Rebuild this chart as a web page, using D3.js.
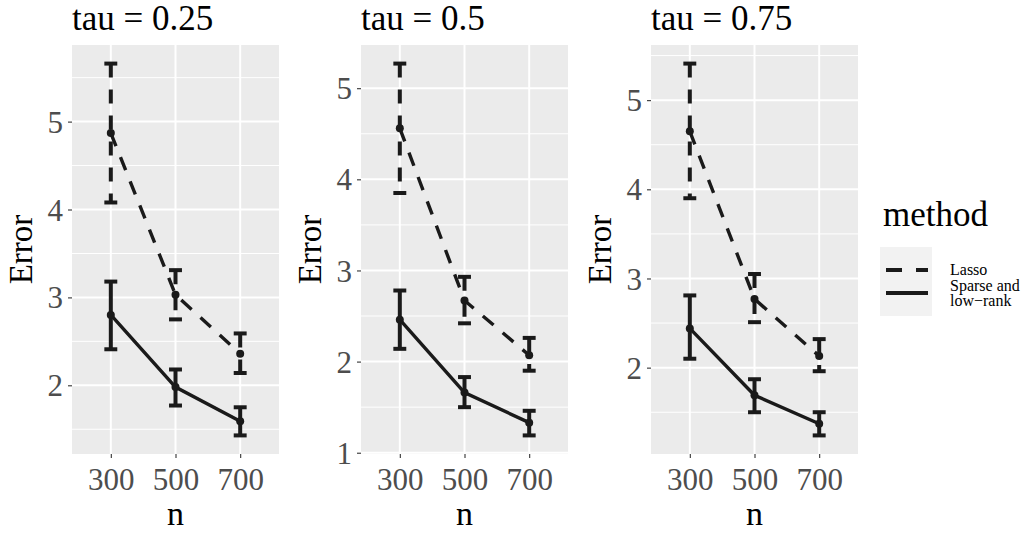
<!DOCTYPE html>
<html>
<head>
<meta charset="utf-8">
<script src="https://cdn.jsdelivr.net/npm/d3@7"></script>
<style>
  body { margin: 0; background: #fff; }
  text { font-family: "Liberation Serif", "Times New Roman", serif; }
</style>
</head>
<body>
<svg id="grafico" width="1032" height="534"></svg>
<script>
// valores
const nValores = [300, 500, 700];
const taus = ["0.25", "0.5", "0.75"];
const metodos = ["Lasso", "Sparse and low\u2212rank"];

const lassoMedia = [[4.87, 3.03, 2.36], [4.56, 2.67, 2.07], [4.65, 2.77, 2.13]];
const lassoInf   = [[4.08, 2.75, 2.14], [3.85, 2.42, 1.90], [3.90, 2.51, 1.96]];
const lassoSup   = [[5.66, 3.31, 2.59], [5.27, 2.93, 2.26], [5.41, 3.05, 2.32]];

const sparseMedia = [[2.80, 1.98, 1.59], [2.46, 1.66, 1.33], [2.44, 1.69, 1.37]];
const sparseInf   = [[2.41, 1.77, 1.43], [2.14, 1.50, 1.19], [2.10, 1.50, 1.24]];
const sparseSup   = [[3.18, 2.18, 1.75], [2.78, 1.83, 1.46], [2.81, 1.87, 1.50]];

const ticksY = [[2, 3, 4, 5], [1, 2, 3, 4, 5], [2, 3, 4, 5]];

var svg = d3.select("#grafico");

var esquerdas = [72, 361, 651],
    largura = 207,
    topo = 45,
    base = 454;

var tracos = ["14,12", null];

function desenharPainel(i) {
    var x0 = esquerdas[i];
    var g = svg.append("g");

    var todos = lassoInf[i].concat(lassoSup[i], sparseInf[i], sparseSup[i]);
    var minimo = d3.min(todos), maximo = d3.max(todos);
    var folga = (maximo - minimo) * 0.05;

    var y = d3.scaleLinear()
        .domain([minimo - folga, maximo + folga])
        .range([base, topo]);

    var x = d3.scalePoint()
        .domain(nValores)
        .range([x0, x0 + largura])
        .padding(0.6);
    var passo = x.step();

    // fundo do painel
    g.append("rect")
        .attr("x", x0).attr("y", topo)
        .attr("width", largura).attr("height", base - topo)
        .attr("fill", "#EBEBEB");

    // grade menor
    var menores = [];
    for (var k = 0; k < ticksY[i].length; k++) {
        menores.push(ticksY[i][k] - 0.5);
    }
    menores.push(ticksY[i][ticksY[i].length - 1] + 0.5);
    menores = menores.filter(function (v) { return v > y.domain()[0] && v < y.domain()[1]; });

    g.selectAll("line.menor")
        .data(menores)
        .enter().append("line")
        .attr("x1", x0).attr("x2", x0 + largura)
        .attr("y1", d => y(d)).attr("y2", d => y(d))
        .attr("stroke", "#fff").attr("stroke-width", 1);

    g.selectAll("line.maiorY")
        .data(ticksY[i])
        .enter().append("line")
        .attr("x1", x0).attr("x2", x0 + largura)
        .attr("y1", d => y(d)).attr("y2", d => y(d))
        .attr("stroke", "#fff").attr("stroke-width", 2);

    g.selectAll("line.maiorX")
        .data(nValores)
        .enter().append("line")
        .attr("x1", d => x(d)).attr("x2", d => x(d))
        .attr("y1", topo).attr("y2", base)
        .attr("stroke", "#fff").attr("stroke-width", 2);

    // eixos
    var eixoY = g.append("g")
        .attr("transform", "translate(" + x0 + ",0)")
        .call(d3.axisLeft(y).tickValues(ticksY[i]).tickSize(4).tickPadding(5).tickFormat(d3.format("d")));
    var eixoX = g.append("g")
        .attr("transform", "translate(0," + base + ")")
        .call(d3.axisBottom(x).tickSize(4).tickPadding(10));

    [eixoY, eixoX].forEach(function (e) {
        e.select(".domain").remove();
        e.selectAll(".tick line").attr("stroke", "#333333").attr("stroke-width", 1.1);
        e.selectAll(".tick text")
            .attr("fill", "#4D4D4D")
            .style("font-size", "31px")
            .style("font-family", "'Liberation Serif', serif");
    });
    eixoX.selectAll(".tick text").attr("dy", "0.72em");
    eixoY.selectAll(".tick text").attr("dy", "0.34em");

    // séries
    var series = [
        { media: lassoMedia[i], inf: lassoInf[i], sup: lassoSup[i], traco: tracos[0] },
        { media: sparseMedia[i], inf: sparseInf[i], sup: sparseSup[i], traco: tracos[1] }
    ];

    var linha = d3.line()
        .x(d => x(d.n))
        .y(d => y(d.v));

    series.forEach(function (s) {
        var pontos = nValores.map(function (n, j) {
            return { n: n, v: s.media[j], inf: s.inf[j], sup: s.sup[j] };
        });

        var barras = g.append("g");
        pontos.forEach(function (p) {
            var segs = [
                [x(p.n) - passo * 0.1, y(p.sup), x(p.n) + passo * 0.1, y(p.sup)],
                [x(p.n), y(p.sup), x(p.n), y(p.inf)],
                [x(p.n) - passo * 0.1, y(p.inf), x(p.n) + passo * 0.1, y(p.inf)]
            ];
            segs.forEach(function (sg) {
                barras.append("line")
                    .attr("x1", sg[0]).attr("y1", sg[1])
                    .attr("x2", sg[2]).attr("y2", sg[3])
                    .attr("stroke", "#1a1a1a")
                    .attr("stroke-width", 4)
                    .attr("stroke-dasharray", s.traco);
            });
        });

        g.append("path")
            .datum(pontos)
            .attr("d", linha)
            .attr("fill", "none")
            .attr("stroke", "#1a1a1a")
            .attr("stroke-width", 3.4)
            .attr("stroke-dasharray", s.traco);

        g.selectAll(null)
            .data(pontos)
            .enter().append("circle")
            .attr("cx", d => x(d.n))
            .attr("cy", d => y(d.v))
            .attr("r", 4)
            .attr("fill", "#1a1a1a");
    });

    // títulos
    g.append("text")
        .attr("x", x0)
        .attr("y", 30)
        .style("font-size", "35px")
        .attr("fill", "#000")
        .text("tau = " + taus[i]);

    g.append("text")
        .attr("x", x0 + largura / 2)
        .attr("y", 525)
        .attr("text-anchor", "middle")
        .style("font-size", "34px")
        .attr("fill", "#000")
        .text("n");

    g.append("text")
        .attr("transform", "translate(" + (x0 - 40) + "," + ((topo + base) / 2) + ") rotate(-90)")
        .attr("text-anchor", "middle")
        .style("font-size", "33px")
        .attr("fill", "#000")
        .text("Error");
}

for (var i = 0; i < taus.length; i++) {
    desenharPainel(i);
}

// legenda
var legenda = svg.append("g");

legenda.append("text")
    .attr("x", 883)
    .attr("y", 226)
    .style("font-size", "35px")
    .attr("fill", "#000")
    .text("method");

legenda.append("rect")
    .attr("x", 880).attr("y", 247)
    .attr("width", 52).attr("height", 69)
    .attr("fill", "#F2F2F2");

var linhasLegenda = [270, 293];
metodos.forEach(function (m, k) {
    legenda.append("line")
        .attr("x1", 886).attr("x2", 928)
        .attr("y1", linhasLegenda[k]).attr("y2", linhasLegenda[k])
        .attr("stroke", "#1a1a1a")
        .attr("stroke-width", 4)
        .attr("stroke-dasharray", k === 0 ? "16,14" : null);

    var partes = m.split(" low");
    var rotulo = legenda.append("text")
        .attr("x", 950)
        .style("font-size", "16px")
        .attr("fill", "#000");
    if (partes.length === 1) {
        rotulo.attr("y", 275).text(m);
    } else {
        rotulo.append("tspan").attr("x", 950).attr("y", 291).text(partes[0]);
        rotulo.append("tspan").attr("x", 950).attr("y", 306).text("low" + partes[1]);
    }
});
</script>
</body>
</html>
